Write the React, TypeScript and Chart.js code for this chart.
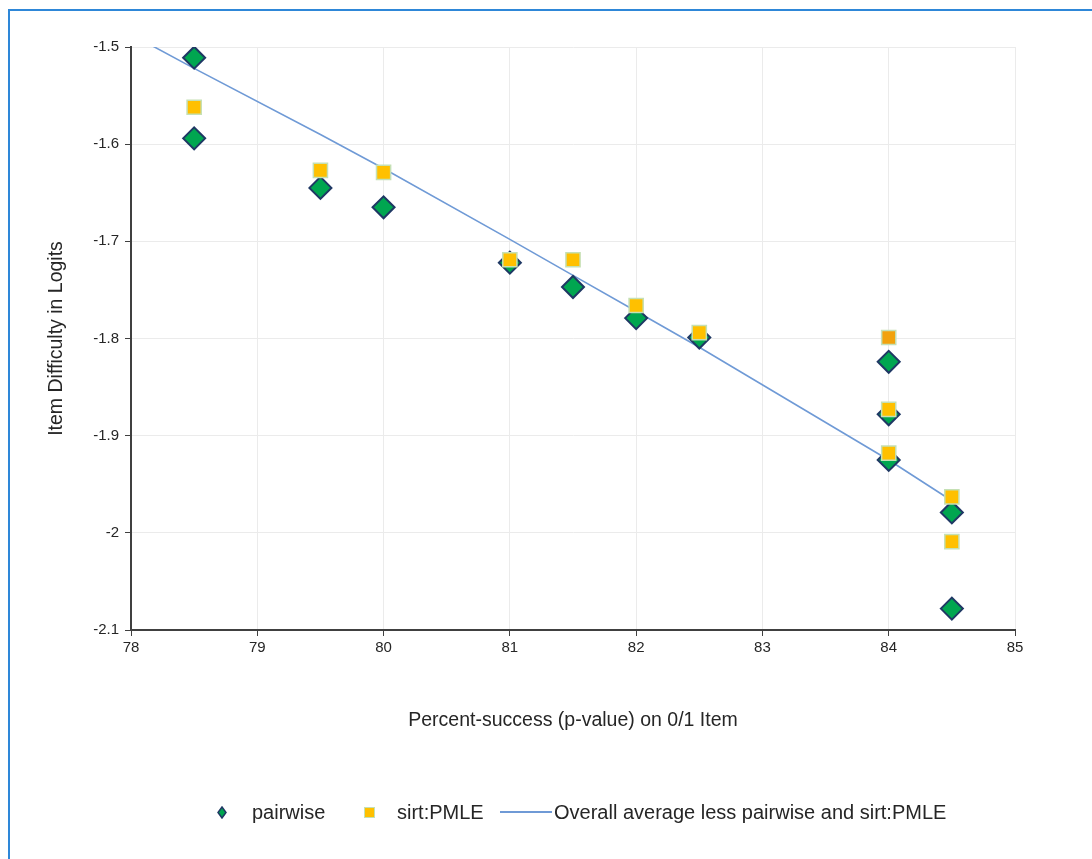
import React, { useEffect, useRef } from "react";
import { Chart, registerables } from "chart.js";

Chart.register(...registerables);

const xTicks = [78, 79, 80, 81, 82, 83, 84, 85];
const yTicks = [-2.1, -2, -1.9, -1.8, -1.7, -1.6, -1.5];

const pairwiseX = [78.5, 78.5, 79.5, 80, 81, 81.5, 82, 82.5, 84, 84, 84, 84.5, 84.5];
const pairwiseY = [-1.511, -1.594, -1.645, -1.665, -1.722, -1.747, -1.779, -1.799, -1.824, -1.878, -1.925, -1.979, -2.078];

const sirtX = [78.5, 79.5, 80, 81, 81.5, 82, 82.5, 84, 84, 84, 84.5, 84.5];
const sirtY = [-1.562, -1.627, -1.629, -1.719, -1.719, -1.766, -1.794, -1.799, -1.873, -1.918, -1.963, -2.009];

const avgX = [78, 78.5, 79.5, 80, 81, 81.5, 82, 82.5, 84, 84.5];
const avgY = [-1.487, -1.522, -1.59, -1.625, -1.698, -1.735, -1.772, -1.809, -1.925, -1.967];

const seriesNames = ["pairwise", "sirt:PMLE", "Overall average less pairwise and sirt:PMLE"];
const xTitle = "Percent-success (p-value) on 0/1 Item";
const yTitle = "Item Difficulty in Logits";

const FONT = "'Liberation Sans', Arial, sans-serif";
const GREEN = "#00a650";
const NAVY = "#1f3864";
const YELLOW = "#ffc000";
const ORANGE = "#f2a20c";
const SQ_BORDER = "#c5e0b4";
const LINE = "#6f9ad6";
const TEXT = "#262626";

export default function App() {
  const ref = useRef<HTMLCanvasElement | null>(null);

  useEffect(() => {
    if (!ref.current) return;
    const toPts = (xs: number[], ys: number[]) => xs.map((x, i) => ({ x, y: ys[i] }));
    const chart = new Chart(ref.current, {
      type: "scatter",
      data: {
        datasets: [
          {
            label: seriesNames[1],
            data: toPts(sirtX, sirtY),
            pointStyle: "rect",
            pointRadius: 10,
            pointBackgroundColor: (ctx: any) => (ctx.dataIndex === 7 ? ORANGE : YELLOW),
            pointBorderColor: SQ_BORDER,
            pointBorderWidth: 1.5,
            order: 0,
          },
          {
            label: seriesNames[0],
            data: toPts(pairwiseX, pairwiseY),
            pointStyle: "rectRot",
            pointRadius: 11,
            pointBackgroundColor: GREEN,
            pointBorderColor: NAVY,
            pointBorderWidth: 2,
            order: 1,
          },
          {
            label: seriesNames[2],
            data: toPts(avgX, avgY),
            showLine: true,
            pointRadius: 0,
            borderColor: LINE,
            borderWidth: 1.6,
            backgroundColor: LINE,
            order: 2,
          },
        ],
      } as any,
      options: {
        animation: false,
        responsive: false,
        maintainAspectRatio: false,
        layout: { padding: { left: 0, top: 47, right: 77, bottom: 127 } },
        plugins: { legend: { display: false }, tooltip: { enabled: false } },
        scales: {
          x: {
            type: "linear",
            min: 78,
            max: 85,
            afterBuildTicks: (s: any) => {
              s.ticks = xTicks.map((v) => ({ value: v }));
            },
            afterFit: (s: any) => {
              s.height = 102;
            },
            grid: { color: "#ebebeb", lineWidth: 1, tickColor: "#404040", tickLength: 6 },
            border: { color: "#404040", width: 2 },
            ticks: {
              font: { family: FONT, size: 15 },
              color: TEXT,
              padding: 3,
              maxRotation: 0,
              callback: (v: any) => String(v),
            },
            title: {
              display: true,
              text: xTitle,
              font: { family: FONT, size: 19.5 },
              color: TEXT,
              padding: { top: 0, bottom: 0 },
            },
          },
          y: {
            type: "linear",
            min: -2.1,
            max: -1.5,
            afterBuildTicks: (s: any) => {
              s.ticks = yTicks.map((v) => ({ value: v }));
            },
            afterFit: (s: any) => {
              s.width = 131;
            },
            grid: { color: "#ebebeb", lineWidth: 1, tickColor: "#404040", tickLength: 6 },
            border: { color: "#404040", width: 2 },
            ticks: {
              font: { family: FONT, size: 15 },
              color: TEXT,
              padding: 6,
              callback: (v: any) => String(Math.round(v * 10) / 10),
            },
            title: {
              display: true,
              text: yTitle,
              font: { family: FONT, size: 19.5 },
              color: TEXT,
              padding: { top: 45, bottom: 0 },
            },
          },
        },
      } as any,
    });
    return () => chart.destroy();
  }, []);

  const legendText: React.CSSProperties = {
    position: "absolute",
    top: 800,
    fontFamily: FONT,
    fontSize: 20,
    lineHeight: "24px",
    color: TEXT,
    whiteSpace: "nowrap",
  };

  return (
    <div style={{ position: "absolute", left: 0, top: 0, width: 1092, height: 859, overflow: "hidden", background: "#fff" }}>
      <div
        style={{
          position: "absolute",
          left: 8,
          top: 9,
          width: 1200,
          height: 900,
          borderTop: "2px solid #2e87d8",
          borderLeft: "2px solid #2e87d8",
        }}
      />
      <canvas ref={ref} width={1092} height={859} style={{ position: "absolute", left: 0, top: 0, display: "block" }} />
      <svg style={{ position: "absolute", left: 217, top: 806 }} width={10} height={13}>
        <polygon points="5,1 9,6.5 5,12 1,6.5" fill={GREEN} stroke={NAVY} strokeWidth={1.5} />
      </svg>
      <div style={{ ...legendText, left: 252 }}>{seriesNames[0]}</div>
      <div
        style={{
          position: "absolute",
          left: 364,
          top: 807,
          width: 9,
          height: 9,
          background: YELLOW,
          border: `1px solid ${SQ_BORDER}`,
        }}
      />
      <div style={{ ...legendText, left: 397 }}>{seriesNames[1]}</div>
      <div style={{ position: "absolute", left: 500, top: 811, width: 52, height: 1.5, background: LINE }} />
      <div style={{ ...legendText, left: 554 }}>{seriesNames[2]}</div>
    </div>
  );
}
